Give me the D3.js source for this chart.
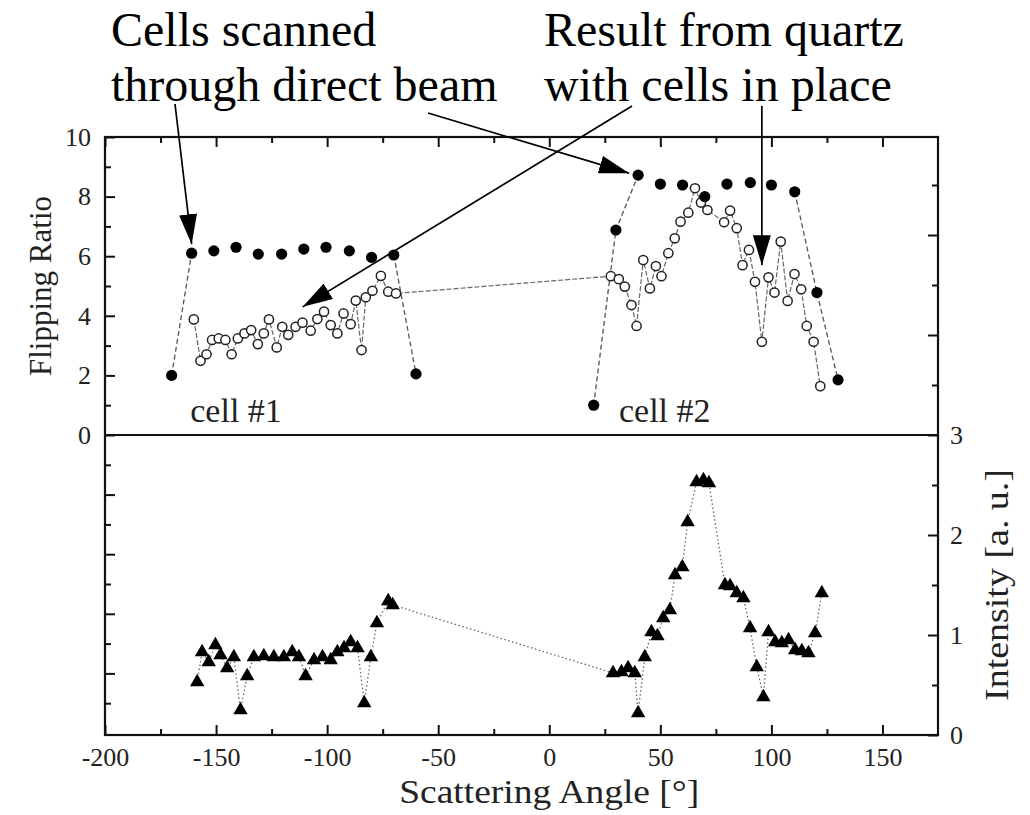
<!DOCTYPE html>
<html><head><meta charset="utf-8">
<script src="https://cdn.jsdelivr.net/npm/d3@7"></script>
<style>
body{margin:0;background:#fff}
svg{display:block}
</style>
</head><body><svg id="c" width="1030" height="815" font-family="'Liberation Serif','Times New Roman',serif"></svg>
<script>
// ---------- data ----------
const xTicks = [-200,-150,-100,-50,0,50,100,150];
const xMinorTicks = [-175,-125,-75,-25,25,75,125];
const ratioTicks = [0,2,4,6,8,10];
const ratioMinorTicks = [1,3,5,7,9];
const intensityTicks = [0,1,2,3];
const intensityMinorTicks = [0.5,1.5,2.5];

// direct beam scans (filled circles)
const cell1Angle = [-170,-161,-151,-141,-131,-120.5,-110.5,-100.5,-90,-80,-70,-60];
const cell1Ratio = [2.0,6.1,6.18,6.3,6.07,6.07,6.24,6.3,6.18,5.96,6.04,2.05];
const cell2Angle = [20,30,40,50,60,70,80,90.5,100,110.5,120.5,130];
const cell2Ratio = [1.0,6.88,8.72,8.42,8.39,8.0,8.42,8.47,8.39,8.16,4.78,1.85];
// index ranges joined by the dashed scan line
const cell1Links = [[0,1],[10,11]];
const cell2Links = [[0,2],[9,11]];

// quartz with cells in place (open circles)
const quartzAngle = [-160,-157,-154.3,-151.8,-148.8,-145.8,-143,-140.2,-137.2,-134.2,-131.2,-128.5,-126.2,-122.7,-120.2,-117.5,-114.2,-111.1,-107.4,-104.4,-101.4,-98.4,-95.4,-92.6,-89.4,-87.1,-84.5,-82.6,-79.6,-75.8,-72.5,-69,
  27.7,31.3,34,37,39.3,42.3,45.3,48,50.5,53.6,56.5,59.1,62.6,65.6,68.3,71.2,78.7,81.4,84.4,87,89.9,92.6,95.7,98.7,101.4,104.2,107.3,110.4,113.4,115.9,119,122];
const quartzRatio = [3.88,2.49,2.71,3.19,3.24,3.19,2.71,3.24,3.41,3.52,3.05,3.41,3.88,2.94,3.63,3.36,3.63,3.77,3.5,3.89,4.14,3.69,3.41,4.08,3.72,4.51,2.85,4.62,4.84,5.34,4.81,4.75,
  5.33,5.23,4.98,4.36,3.66,5.87,4.92,5.67,5.33,6.1,6.6,7.16,7.46,8.28,7.8,7.55,7.14,7.53,6.94,5.7,6.21,5.14,3.13,5.29,4.78,6.49,4.5,5.4,4.89,3.66,3.13,1.64];

// intensity (triangles)
const intAngle = [-158.5,-156.3,-153.3,-150.3,-148,-145,-142,-139,-136,-133,-128.5,-124,-119.5,-115.7,-112.7,-109.7,-105.9,-102.1,-98.4,-95.4,-92.4,-89.4,-86.3,-83.3,-80.3,-77.6,-72.5,-70.5,
  28.7,32.5,35.5,38.5,40,43,46,48.7,51.3,54.3,56.6,59.9,62.3,66.3,69.4,71.9,79.1,81.4,84.4,87.4,90.4,93.4,96.4,98.7,101.7,104.7,107.7,110.7,113.7,116.7,119.7,122.7];
const intValue = [0.53,0.83,0.73,0.9,0.8,0.67,0.78,0.25,0.59,0.78,0.79,0.78,0.78,0.83,0.78,0.59,0.75,0.78,0.75,0.83,0.87,0.93,0.87,0.32,0.78,1.12,1.34,1.3,
  0.62,0.63,0.67,0.62,0.22,0.78,1.03,0.99,1.17,1.25,1.6,1.68,2.13,2.53,2.55,2.52,1.5,1.49,1.42,1.37,1.07,0.68,0.38,1.03,0.93,0.92,0.95,0.85,0.84,0.82,1.02,1.42];

// ---------- layout ----------
const svg = d3.select("#c");
const FONT = "'Liberation Serif','Times New Roman',serif";
const L = 105, R = 938, T = 137, M = 435, B = 735;
const x = d3.scaleLinear().domain([-200,175]).range([L,R]);
const yR = d3.scaleLinear().domain([0,10]).range([M,T]);
const yRdown = d3.scaleLinear().domain([0,10]).range([M,B-2]);
const yI = d3.scaleLinear().domain([0,3]).range([B,M]);
const yIup = d3.scaleLinear().domain([0,3]).range([M,M-300]);

function ax(gen, tr, vals, size, labels, pad){
  const g = svg.append("g").attr("transform", tr)
    .call(gen.tickValues(vals).tickSizeInner(-size).tickSizeOuter(0).tickPadding(pad||8)
      .tickFormat(labels ? (d=>String(d)) : ""));
  g.attr("font-family", FONT);
  g.select(".domain").remove();
  g.selectAll(".tick line").attr("stroke","#111").attr("stroke-width",2);
  g.selectAll(".tick text").attr("font-size",26).attr("fill","#222").style("font-family",FONT);
  return g;
}
// left
ax(d3.axisLeft(yR), `translate(${L},0)`, ratioTicks, 10, true, 14);
ax(d3.axisLeft(yR), `translate(${L},0)`, ratioMinorTicks, 6, false);
ax(d3.axisLeft(yRdown), `translate(${L},0)`, [2,4,6,8], 10, false);
ax(d3.axisLeft(yRdown), `translate(${L},0)`, ratioMinorTicks, 6, false);
// right
ax(d3.axisRight(yI), `translate(${R},0)`, intensityTicks, 10, true, 12);
ax(d3.axisRight(yI), `translate(${R},0)`, intensityMinorTicks, 6, false);
ax(d3.axisRight(yIup), `translate(${R},0)`, [1,2], 10, false);
ax(d3.axisRight(yIup), `translate(${R},0)`, intensityMinorTicks, 6, false);
// bottom / top
ax(d3.axisBottom(x), `translate(0,${B})`, xTicks, 10, true, 13);
ax(d3.axisBottom(x), `translate(0,${B})`, xMinorTicks, 6, false);
ax(d3.axisTop(x), `translate(0,${T})`, xTicks, 10, false);
ax(d3.axisTop(x), `translate(0,${T})`, xMinorTicks, 6, false);

// frame + divider
svg.append("rect").attr("x",L).attr("y",T).attr("width",R-L).attr("height",B-T)
  .attr("fill","none").attr("stroke","#111").attr("stroke-width",2.2);
svg.append("line").attr("x1",L).attr("x2",R).attr("y1",M).attr("y2",M)
  .attr("stroke","#111").attr("stroke-width",2);

// ---------- series ----------
const zip = (a,b)=>a.map((v,i)=>[v,b[i]]);
const lineR = d3.line().x(d=>x(d[0])).y(d=>yR(d[1]));
const lineI = d3.line().x(d=>x(d[0])).y(d=>yI(d[1]));

const c1 = zip(cell1Angle,cell1Ratio), c2 = zip(cell2Angle,cell2Ratio);
const q = zip(quartzAngle,quartzRatio), tri = zip(intAngle,intValue);

[[c1,cell1Links],[c2,cell2Links]].forEach(([s,links])=>links.forEach(([a,b])=>
  svg.append("path").attr("d",lineR(s.slice(a,b+1))).attr("fill","none")
    .attr("stroke","#555").attr("stroke-width",1.3).attr("stroke-dasharray","5,3")));
svg.append("path").attr("d",lineR(q)).attr("fill","none")
  .attr("stroke","#666").attr("stroke-width",1.2).attr("stroke-dasharray","5,2");
svg.append("path").attr("d",lineI(tri)).attr("fill","none")
  .attr("stroke","#666").attr("stroke-width",1.3).attr("stroke-dasharray","1.5,2.5");

svg.append("g").selectAll("circle").data(q).join("circle")
  .attr("cx",d=>x(d[0])).attr("cy",d=>yR(d[1])).attr("r",4.6)
  .attr("fill","#fff").attr("stroke","#222").attr("stroke-width",1.5);
svg.append("g").selectAll("circle").data(c1.concat(c2)).join("circle")
  .attr("cx",d=>x(d[0])).attr("cy",d=>yR(d[1])).attr("r",5.6).attr("fill","#000");
const triSym = d3.symbol().type(d3.symbolTriangle).size(90);
svg.append("g").selectAll("path").data(tri).join("path")
  .attr("d",triSym).attr("transform",d=>`translate(${x(d[0])},${yI(d[1])})`).attr("fill","#000");

// ---------- text ----------
const txt = (sel)=>sel.attr("fill","#222").style("font-family",FONT);
txt(svg.append("text")).attr("x",x(-141)).attr("y",422).attr("font-size",34)
  .attr("text-anchor","middle").text("cell #1");
txt(svg.append("text")).attr("x",x(52)).attr("y",422).attr("font-size",34)
  .attr("text-anchor","middle").text("cell #2");
txt(svg.append("text")).attr("transform",`translate(51,${(T+M)/2}) rotate(-90)`)
  .attr("text-anchor","middle").attr("font-size",31).text("Flipping Ratio");
txt(svg.append("text")).attr("transform",`translate(1008,${(M+B)/2}) rotate(-90)`)
  .attr("text-anchor","middle").attr("font-size",34).attr("textLength",232)
  .attr("lengthAdjust","spacingAndGlyphs").text("Intensity [a. u.]");
txt(svg.append("text")).attr("x",x(0)).attr("y",803).attr("text-anchor","middle")
  .attr("font-size",33).attr("textLength",300).attr("lengthAdjust","spacingAndGlyphs")
  .text("Scattering Angle [°]");

const ann = svg.append("g").attr("font-size",48);
txt(ann.append("text")).attr("fill","#000").attr("x",111).attr("y",46).text("Cells scanned");
txt(ann.append("text")).attr("fill","#000").attr("x",111).attr("y",101).text("through direct beam");
txt(ann.append("text")).attr("fill","#000").attr("x",544).attr("y",46).text("Result from quartz");
txt(ann.append("text")).attr("fill","#000").attr("x",544).attr("y",101).text("with cells in place");

// arrows
const defs = svg.append("defs");
defs.append("marker").attr("id","ah").attr("viewBox","0 0 30 18").attr("refX",30).attr("refY",9)
  .attr("markerWidth",30).attr("markerHeight",18).attr("markerUnits","userSpaceOnUse")
  .attr("orient","auto").append("path").attr("d","M0,0 L30,9 L0,18 Z").attr("fill","#000");
const arrows = [
  [[175,104],[x(-161),yR(6.1)-9]],
  [[428,113],[x(40)-9,yR(8.72)-2]],
  [[632,106],[x(-111),yR(4.3)]],
  [[x(95.7),106],[x(95.7),yR(5.7)]]
];
arrows.forEach(([a,b])=>svg.append("line").attr("x1",a[0]).attr("y1",a[1]).attr("x2",b[0]).attr("y2",b[1])
  .attr("stroke","#000").attr("stroke-width",1.7).attr("marker-end","url(#ah)"));
</script></body></html>
